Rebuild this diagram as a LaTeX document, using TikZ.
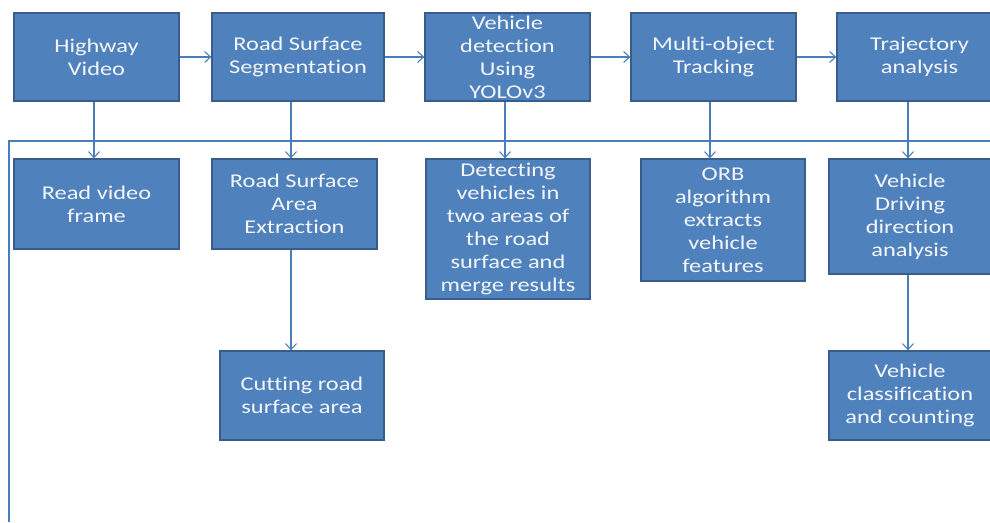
\documentclass[tikz,border=0pt]{standalone}
\usepackage{fontspec}
\setmainfont{Carlito}[FakeStretch=1.25,Ligatures=NoCommon]
\usetikzlibrary{arrows.meta}
\definecolor{boxfill}{HTML}{4F81BD}
\definecolor{boxline}{HTML}{385D8A}
\definecolor{conn}{HTML}{4A7EBB}
\definecolor{txt}{HTML}{F4F6FA}
\tikzset{
  stepbox/.style={draw=boxline, fill=boxfill, line width=1.3pt, text=txt,
    align=center, inner sep=0pt, font=\fontsize{19.5}{23}\selectfont,
    execute at begin node={\rule{0pt}{19pt}}},
  arr/.style={draw=conn, line width=1.1pt, -{Straight Barb[length=6pt,width=11pt]}},
  plain/.style={draw=conn, line width=1.1pt}
}
\begin{document}
\begin{tikzpicture}[x=1pt,y=-1pt]
\useasboundingbox (0,0) rectangle (990,522);
% top row
\node[stepbox, minimum width=165, minimum height=88] (hv) at (96.5,57) {Highway\\Video};
\node[stepbox, minimum width=172, minimum height=88] (seg) at (298,57) {Road Surface\\Segmentation};
\node[stepbox, minimum width=165, minimum height=88] (yolo) at (507.5,57) {Vehicle\\detection\\Using\\YOLOv3};
\node[stepbox, minimum width=165, minimum height=88] (mot) at (713.5,57) {Multi-object\\Tracking};
\node[stepbox, minimum width=165, minimum height=88] (traj) at (919.5,57) {Trajectory\\analysis};
% second row
\node[stepbox, minimum width=165, minimum height=90] (rvf) at (96.5,204) {Read video\\frame};
\node[stepbox, minimum width=165, minimum height=90] (ext) at (294.5,204) {Road Surface\\Area\\Extraction};
\node[stepbox, minimum width=164, minimum height=140] (det) at (508,229) {Detecting\\vehicles in\\two areas of\\the road\\surface and\\merge results};
\node[stepbox, minimum width=164, minimum height=122] (orb) at (723,220) {ORB\\algorithm\\extracts\\vehicle\\features};
\node[stepbox, minimum width=162, minimum height=115] (vdd) at (910,216.5) {Vehicle\\Driving\\direction\\analysis};
% third row
\node[stepbox, minimum width=164, minimum height=89] (cut) at (302,395.5) {Cutting road\\surface area};
\node[stepbox, minimum width=162, minimum height=89] (vcc) at (910,395.5) {Vehicle\\classification\\and counting};
% frame line
\coordinate (fb) at (9,522);
\coordinate (fc) at (9,141);
\coordinate (fr) at (990,141);
\draw[plain] (fb) -- (fc) -- (fr);
% horizontal arrows
\draw[arr] (hv.east) -- (seg.west);
\draw[arr] (seg.east) -- (yolo.west);
\draw[arr] (yolo.east) -- (mot.west);
\draw[arr] (mot.east) -- (traj.west);
% vertical arrows
\draw[arr] ([xshift=-2.5pt]hv.south) -- ([xshift=-2.5pt]hv.south |- rvf.north);
\draw[arr] ([xshift=-7pt]seg.south) -- ([xshift=-7pt]seg.south |- ext.north);
\draw[arr] ([xshift=-2.5pt]yolo.south) -- ([xshift=-2.5pt]yolo.south |- det.north);
\draw[arr] ([xshift=-3.5pt]mot.south) -- ([xshift=-3.5pt]mot.south |- orb.north);
\draw[arr] ([xshift=-11.5pt]traj.south) -- ([xshift=-11.5pt]traj.south |- vdd.north);
\draw[arr] ([xshift=-3.5pt]ext.south) -- ([xshift=-3.5pt]ext.south |- cut.north);
\draw[arr] ([xshift=-2pt]vdd.south) -- ([xshift=-2pt]vdd.south |- vcc.north);
\end{tikzpicture}
\end{document}
